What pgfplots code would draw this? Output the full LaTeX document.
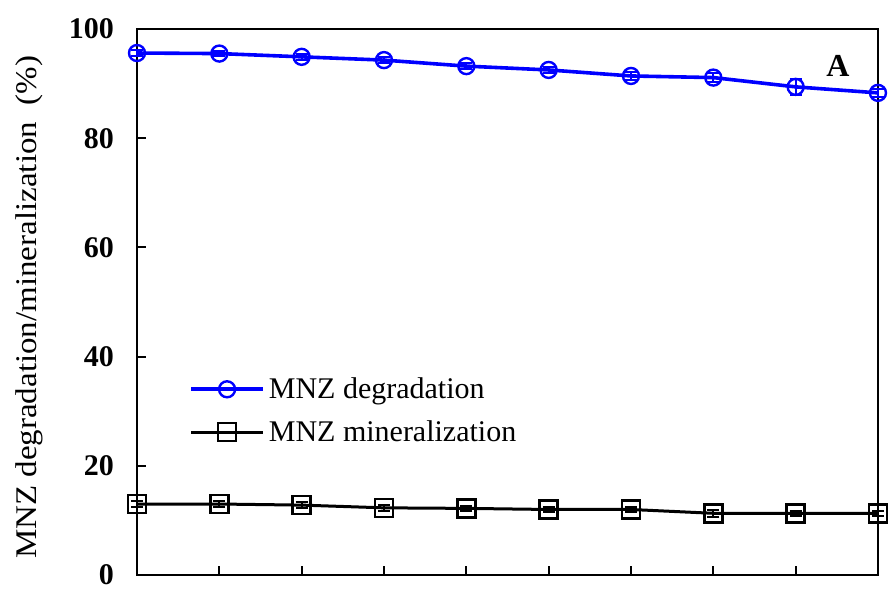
\documentclass[border=0pt]{standalone}
\usepackage{pgfplots}
\pgfplotsset{compat=1.18}
\usepackage{fontspec}
\setmainfont{Liberation Serif}

\pgfplotstableread{
x  deg   degerr  mine  mineerr
0  95.6  0.5     13.0  0.6
1  95.5  0.5     13.0  0.5
2  94.9  0.5     12.8  0.6
3  94.3  0.6     12.3  0.5
4  93.2  0.6     12.2  0.5
5  92.5  0.6     12.0  0.5
6  91.4  0.7     12.0  0.5
7  91.1  0.8     11.3  0.6
8  89.4  1.5     11.3  0.5
9  88.3  0.8     11.3  0.5
}\mnzdata

\begin{document}
\begin{tikzpicture}
\begin{axis}[
  scale only axis,
  width=370.5pt, height=273pt,
  xmin=0, xmax=9, ymin=0, ymax=100,
  xtick={0,...,9}, xticklabels={},
  ytick={0,20,40,60,80,100},
  tick align=inside,
  xtick pos=bottom, ytick pos=left,
  major tick length=4.5pt,
  axis line style={line width=1pt},
  every tick/.style={black, line width=1pt},
  font=\fontsize{15}{18}\selectfont,
  yticklabel style={font=\fontsize{15}{18}\selectfont\bfseries, xshift=-8pt},
  /pgf/number format/assume math mode=true,
  ylabel={\scalebox{1.1}[1]{MNZ degradation/mineralization~~(\%)}},
  every axis y label/.style={at={(axis description cs:-0.145,0.49)}, rotate=90, anchor=center},
  clip=false,
  legend cell align=left,
  legend style={draw=none, fill=none, at={(axis description cs:0.07,0.37)}, anchor=north west,
    font=\fontsize{15}{18}\selectfont, row sep=5.5pt, inner sep=0pt},
  legend image code/.code={\draw[mark repeat=2, mark phase=2] plot coordinates {(0pt,0pt) (18pt,0pt) (36pt,0pt)};},
]
\addplot[blue, line width=1.8pt, mark=o, mark size=4pt, mark options={line width=1.2pt, solid},
  error bars/.cd, y dir=both, y explicit, error bar style={line width=1pt}, error mark options={rotate=90, mark size=3pt, line width=1pt}]
  table[x=x, y=deg, y error=degerr] {\mnzdata};
\addlegendentry{MNZ degradation}
\addplot[black, line width=1.5pt, mark=square, mark size=4.5pt, mark options={line width=1.2pt, solid},
  error bars/.cd, y dir=both, y explicit, error bar style={line width=1pt}, error mark options={rotate=90, mark size=3pt, line width=1pt}]
  table[x=x, y=mine, y error=mineerr] {\mnzdata};
\addlegendentry{MNZ mineralization}
\node[font=\fontsize{16}{18}\selectfont\bfseries] at (rel axis cs:0.946,0.933) {A};
\end{axis}
\pgfresetboundingbox
\path[use as bounding box] (-68.5pt,-7pt) rectangle (375.5pt,287.5pt);
\end{tikzpicture}
\end{document}
